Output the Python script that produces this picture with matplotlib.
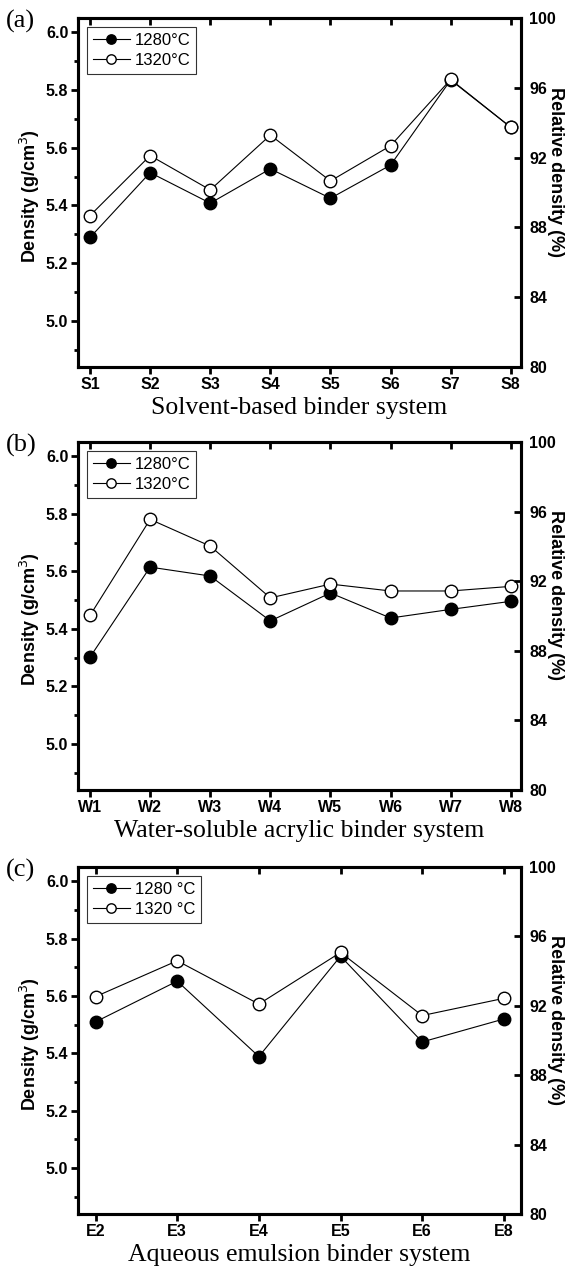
import matplotlib
matplotlib.use("Agg")
import matplotlib.pyplot as plt
from matplotlib.ticker import MultipleLocator

cats_a = ["S1", "S2", "S3", "S4", "S5", "S6", "S7", "S8"]
a_1280 = [5.289, 5.514, 5.408, 5.527, 5.425, 5.540, 5.835, 5.671]
a_1320 = [5.365, 5.573, 5.454, 5.644, 5.485, 5.607, 5.837, 5.671]

cats_b = ["W1", "W2", "W3", "W4", "W5", "W6", "W7", "W8"]
b_1280 = [5.302, 5.615, 5.584, 5.428, 5.525, 5.438, 5.468, 5.496]
b_1320 = [5.447, 5.781, 5.688, 5.508, 5.556, 5.532, 5.532, 5.548]

cats_c = ["E2", "E3", "E4", "E5", "E6", "E8"]
c_1280 = [5.510, 5.652, 5.389, 5.739, 5.440, 5.520]
c_1320 = [5.598, 5.723, 5.572, 5.752, 5.532, 5.592]

left_ticks = [5.0, 5.2, 5.4, 5.6, 5.8, 6.0]
right_ticks = [80, 84, 88, 92, 96, 100]

xlabels = ["Solvent-based binder system",
           "Water-soluble acrylic binder system",
           "Aqueous emulsion binder system"]
panel_tags = ["(a)", "(b)", "(c)"]
leg_labels = [("1280\u00b0C", "1320\u00b0C"), ("1280\u00b0C", "1320\u00b0C"),
              ("1280 \u00b0C", "1320 \u00b0C")]

fig = plt.figure(figsize=(5.67, 12.72), dpi=100)
W, H = 567.0, 1272.0
panels = [(18, 367), (442, 790), (867, 1214)]
datasets = [(cats_a, a_1280, a_1320), (cats_b, b_1280, b_1320), (cats_c, c_1280, c_1320)]

sans = ["Liberation Sans", "DejaVu Sans"]
serif = ["Liberation Serif", "DejaVu Serif"]
TFS = 11.5

for i, ((top, bot), (cats, d1, d2)) in enumerate(zip(panels, datasets)):
    left, right = 78, 521
    ax = fig.add_axes([left / W, 1 - bot / H, (right - left) / W, (bot - top) / H])
    x = list(range(len(cats)))
    ax.plot(x, d1, '-o', color='black', lw=0.8, ms=9, mfc='black', mec='black',
            label=leg_labels[i][0], zorder=3)
    ax.plot(x, d2, '-o', color='black', lw=0.8, ms=9, mfc='white', mec='black',
            mew=1.0, label=leg_labels[i][1], zorder=4)
    n = len(cats)
    if n == 8:
        ax.set_xlim(-0.2, 7.17)
    else:
        ax.set_xlim(-0.215, 5.21)
    ax.set_ylim(4.84, 6.05)
    ax.set_xticks(x)
    ax.set_xticklabels(cats, fontfamily=sans, fontweight='bold', fontsize=TFS)
    ax.yaxis.set_minor_locator(MultipleLocator(0.1))
    ax.set_yticks(left_ticks)
    ax.set_yticklabels(["%.1f" % v for v in left_ticks],
                       fontfamily=sans, fontweight='bold', fontsize=TFS)
    ax.tick_params(axis='y', which='major', direction='out', length=5, width=2,
                   pad=2, right=False)
    ax.tick_params(axis='y', which='minor', direction='out', length=3, width=2, right=False)
    ax.tick_params(axis='x', which='major', direction='out', length=5, width=2,
                   pad=2, top=False)
    for s in ax.spines.values():
        s.set_linewidth(2.2)
    ax.set_ylabel("Density (g/cm$^3$)", fontfamily=sans, fontweight='bold',
                  fontsize=13)
    ax.yaxis.set_label_coords(-0.082, 0.49)
    ax.set_xlabel(xlabels[i], fontfamily=serif, fontsize=18.5, labelpad=4)

    axt = ax.secondary_xaxis('top')
    axt.set_xticks(x)
    axt.set_xticklabels([])
    axt.tick_params(direction='in', length=5, width=2)

    ax2 = ax.twinx()
    ax2.set_ylim(80, 100)
    ax2.set_yticks(right_ticks)
    ax2.set_yticklabels([str(v) for v in right_ticks],
                        fontfamily=sans, fontweight='bold', fontsize=TFS)
    ax2.tick_params(axis='y', direction='in', length=5, width=2, pad=6)
    for s in ax2.spines.values():
        s.set_linewidth(2.2)
    ax2.set_ylabel("Relative density (%)", fontfamily=sans, fontweight='bold',
                   fontsize=13, rotation=-90, va='center')
    ax2.yaxis.set_label_coords(1.077, 0.56)

    leg = ax.legend(loc='upper left', bbox_to_anchor=(0.0, 1.0),
                    prop={'family': sans, 'size': 12}, frameon=True, fancybox=False,
                    edgecolor='black', handlelength=2.2, handletextpad=0.3,
                    borderpad=0.35, labelspacing=0.3, borderaxespad=0.55,
                    markerscale=0.75)
    leg.get_frame().set_linewidth(0.8)
    leg.set_zorder(10)

    fig.text(6 / W, 1 - (top + 3) / H, panel_tags[i], fontfamily=serif, fontsize=19,
             va='center', ha='left')

fig.savefig("out.png", dpi=100)
